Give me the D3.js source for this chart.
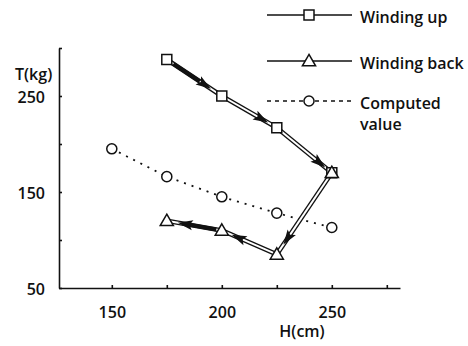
<!DOCTYPE html>
<html>
<head>
<meta charset="utf-8">
<script src="https://cdn.jsdelivr.net/npm/d3@7"></script>
<style>
  body { margin: 0; background: #fff; }
  text { font-family: "Open Sans", "Noto Sans", sans-serif; font-weight: 600; fill: #111; }
</style>
</head>
<body>
<div class="graph"></div>
<script>
// Data
let windingUpH = [175, 200, 225, 250];
let windingUpT = [288, 250, 217, 170];
let windingBackH = [250, 225, 200, 175];
let windingBackT = [170, 85, 110, 120];
let computedH = [150, 175, 200, 225, 250];
let computedT = [195, 166, 145, 128, 113];

let xTicks = [150, 175, 200, 225, 250, 275];
let xLabels = [150, 200, 250];
let yTicks = [50, 100, 150, 200, 250, 300];
let yLabels = [50, 150, 250];

// arrow placement along each segment (tip position, solid part)
let upArrows = [
  { tip: 0.8, solid: [0.12, 0.6] },
  { tip: 0.84, solid: null },
  { tip: 0.88, solid: null }
];
let backArrows = [
  { tip: 0.88, solid: null },
  { tip: 0.82, solid: null },
  { tip: 0.8, solid: [0.1, 0.68] }
];

let width = 468;
let height = 346;

let svg = d3.select(".graph").append("svg")
  .attr("width", width)
  .attr("height", height);

let x = d3.scaleLinear().domain([126, 281]).range([59, 400]);
let y = d3.scaleLinear().domain([50, 300]).range([288, 48]);

// axes
let yAxis = svg.append("g")
  .attr("transform", "translate(" + x(126) + ",0)")
  .call(d3.axisLeft(y)
    .tickValues(yTicks)
    .tickSizeInner(-3)
    .tickSizeOuter(0)
    .tickPadding(14)
    .tickFormat(d => yLabels.includes(d) ? d : ""));

let xAxis = svg.append("g")
  .attr("transform", "translate(0," + y(50) + ")")
  .call(d3.axisBottom(x)
    .tickValues(xTicks)
    .tickSizeInner(-3)
    .tickSizeOuter(0)
    .tickPadding(19)
    .tickFormat(d => xLabels.includes(d) ? d : ""));

svg.selectAll(".domain, .tick line")
  .attr("stroke", "#111")
  .attr("stroke-width", 1.6);
svg.selectAll(".tick text")
  .attr("font-size", 16)
  .attr("font-family", "'Open Sans', 'Noto Sans', sans-serif")
  .attr("font-weight", 600)
  .attr("fill", "#111");
yAxis.selectAll(".tick text").attr("dy", "0.42em");

svg.append("text")
  .attr("x", 15).attr("y", 80)
  .attr("font-size", 16)
  .text("T(kg)");

svg.append("text")
  .attr("x", 302).attr("y", 337)
  .attr("text-anchor", "middle")
  .attr("font-size", 16)
  .text("H(cm)");

// computed value (dotted)
let line = d3.line().x(d => x(d[0])).y(d => y(d[1]));
let computed = d3.zip(computedH, computedT);
svg.append("path")
  .attr("d", line(computed))
  .attr("fill", "none")
  .attr("stroke", "#111")
  .attr("stroke-width", 1.8)
  .attr("stroke-dasharray", "2,6");

// double lines with arrows
function drawArrows(hs, ts, arrows) {
  let pts = d3.zip(hs, ts).map(d => [x(d[0]), y(d[1])]);
  arrows.forEach((a, i) => {
    let p0 = pts[i], p1 = pts[i + 1];
    let g = svg.append("g");
    g.append("line")
      .attr("x1", p0[0]).attr("y1", p0[1]).attr("x2", p1[0]).attr("y2", p1[1])
      .attr("stroke", "#111").attr("stroke-width", 4.6);
    g.append("line")
      .attr("x1", p0[0]).attr("y1", p0[1]).attr("x2", p1[0]).attr("y2", p1[1])
      .attr("stroke", "#fff").attr("stroke-width", 2);
    let lerp = t => [p0[0] + (p1[0] - p0[0]) * t, p0[1] + (p1[1] - p0[1]) * t];
    if (a.solid) {
      let s = lerp(a.solid[0]), e = lerp(a.solid[1]);
      g.append("line")
        .attr("x1", s[0]).attr("y1", s[1]).attr("x2", e[0]).attr("y2", e[1])
        .attr("stroke", "#111").attr("stroke-width", 4);
    }
    let tip = lerp(a.tip);
    let ang = Math.atan2(p1[1] - p0[1], p1[0] - p0[0]) * 180 / Math.PI;
    g.append("path")
      .attr("d", "M0,0 L-15,-5 L-12,0 L-15,5 Z")
      .attr("transform", "translate(" + tip[0] + "," + tip[1] + ") rotate(" + ang + ")")
      .attr("fill", "#111");
  });
}
drawArrows(windingUpH, windingUpT, upArrows);
drawArrows(windingBackH, windingBackT, backArrows);

// markers
let sym = {
  square: d3.symbol().type(d3.symbolSquare).size(100),
  triangle: d3.symbol().type(d3.symbolTriangle).size(75),
  circle: d3.symbol().type(d3.symbolCircle).size(80)
};

function drawMarkers(hs, ts, s, dy) {
  svg.append("g").selectAll("path")
    .data(d3.zip(hs, ts))
    .join("path")
    .attr("d", sym[s])
    .attr("transform", d => "translate(" + x(d[0]) + "," + (y(d[1]) + dy) + ")")
    .attr("fill", "#fff")
    .attr("stroke", "#111")
    .attr("stroke-width", 1.5);
}
drawMarkers(computedH, computedT, "circle", 0);
drawMarkers(windingUpH, windingUpT, "square", 0);
drawMarkers(windingBackH, windingBackT, "triangle", 1);

// legend
let legendItems = [
  { name: ["Winding up"], symbol: "square", dash: null, y: 15 },
  { name: ["Winding back"], symbol: "triangle", dash: null, y: 61 },
  { name: ["Computed", "value"], symbol: "circle", dash: "4,4", y: 101 }
];
let legend = svg.append("g");
legendItems.forEach(item => {
  legend.append("line")
    .attr("x1", 267).attr("x2", 352)
    .attr("y1", item.y).attr("y2", item.y)
    .attr("stroke", "#111")
    .attr("stroke-width", 1.5)
    .attr("stroke-dasharray", item.dash);
  legend.append("path")
    .attr("d", sym[item.symbol])
    .attr("transform", "translate(309," + (item.y + (item.symbol == "triangle" ? 1 : 0)) + ")")
    .attr("fill", "#fff")
    .attr("stroke", "#111")
    .attr("stroke-width", 1.5);
  item.name.forEach((t, i) => {
    legend.append("text")
      .attr("x", 360)
      .attr("y", item.y + 8 + i * 21)
      .attr("font-size", 16)
      .text(t);
  });
});
</script>
</body>
</html>
